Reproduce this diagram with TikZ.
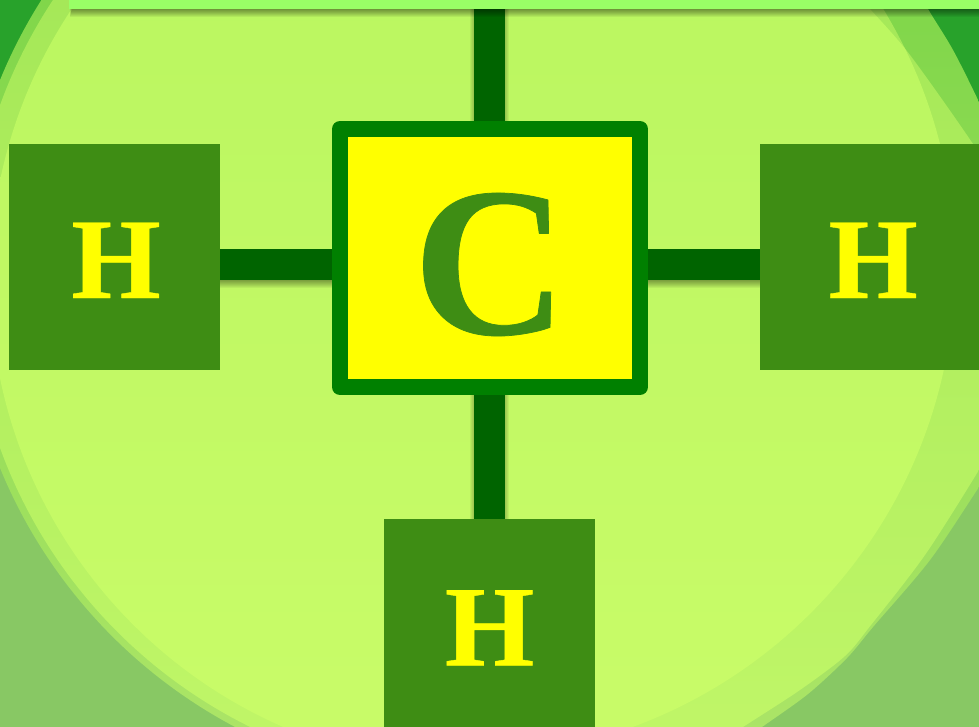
\documentclass[tikz,border=0pt]{standalone}
\usepackage{fontspec}
\setmainfont{Liberation Serif}[BoldFeatures={FakeBold=0.35}]
\pgfdeclarelayer{under}
\pgfsetlayers{under,main}
\definecolor{pureyellow}{RGB}{255,255,0}
\definecolor{boxgreen}{RGB}{62,141,20}
\definecolor{bordergreen}{RGB}{0,128,0}
\definecolor{bondgreen}{RGB}{0,100,0}
\definecolor{barlight}{RGB}{153,255,102}
\definecolor{bgtop}{RGB}{40,162,43}
\definecolor{bgbot}{RGB}{136,200,100}
\definecolor{oneT}{RGB}{125,213,72}
\definecolor{oneB}{RGB}{175,230,105}
\definecolor{twoT}{RGB}{163,231,87}
\definecolor{twoB}{RGB}{194,247,105}
\definecolor{thrT}{RGB}{186,246,96}
\definecolor{thrB}{RGB}{202,252,105}
\tikzset{
  hatom/.style={draw=none,fill=boxgreen,text=pureyellow,inner sep=0pt,outer sep=0pt,
    minimum width=211pt,minimum height=226pt,
    font=\fontsize{115}{115}\selectfont\bfseries,text height=82pt,text depth=0pt},
  catom/.style={draw=bordergreen,line width=16pt,line join=round,fill=pureyellow,text=boxgreen,
    inner sep=0pt,outer sep=0pt,minimum width=300pt,minimum height=258pt,
    font=\fontsize{213}{213}\selectfont\bfseries,text height=152pt,text depth=0pt},
  topbar/.style={fill=barlight,draw=none,inner sep=0pt,outer sep=0pt,minimum width=940pt,minimum height=40pt},
  bond/.style={bondgreen,line width=31pt},
}
\newcommand{\fillgrad}[2]{\shade[top color=#1,bottom color=#2] (-60,-60) rectangle (1100,800);}
\newcommand{\pathB}{(490,-60) -- plot[smooth] coordinates {(900,-40) (928,9) (953,50) (979,102) (1010,170)} -- (1020,440) -- plot[smooth] coordinates {(1010,440) (979,487) (930,560) (873,627) (847,658) (808,694) (762,727) (715,760)} -- (490,800) -- cycle}
\newcommand{\pathE}{(490,-60) -- plot[smooth] coordinates {(845,-18) (870,9) (910,55) (973,144) (1000,190)} -- (1020,430) -- plot[smooth] coordinates {(1005,425) (979,470) (925,555) (871,625) (845,656) (800,690) (743,727) (700,755)} -- (490,800) -- cycle}
\newcommand{\pathF}{(463,265) circle[radius=492pt]}
\begin{document}
\begin{tikzpicture}[x=1pt,y=-1pt]
\useasboundingbox (0,0) rectangle (979,727);
% nodes
\node[catom] (CC) at (490,258) {C};
\node[hatom] (HL) at (114.5,257) {\hspace{3pt}H};
\node[hatom,minimum width=226pt] (HR) at (873,257) {H};
\node[hatom,minimum height=211pt] (HB) at (489.5,624.5) {H};
\node[topbar] (Bar) at (539,-11) {};
\coordinate (bondy) at (0,264.5);
\coordinate (shadowy) at (0,268.5);
\coordinate (bondx) at (489.5,0);
\begin{pgfonlayer}{under}
  % background
  \fill[bgtop] (-10,-10) rectangle (1000,274);
  \fill[bgbot] (-10,274) rectangle (1000,740);
  % outer discs
  \begin{scope}
    \clip (-60,-60) rectangle (490,800);
    \clip (474,274) circle[radius=512pt];
    \fillgrad{oneT}{oneB}
  \end{scope}
  \begin{scope}
    \clip \pathB;
    \fillgrad{oneT}{oneB}
  \end{scope}
  % middle discs
  \begin{scope}
    \clip (-60,-60) rectangle (490,800);
    \clip (472,276.5) circle[radius=502pt];
    \fillgrad{twoT}{twoB}
  \end{scope}
  \begin{scope}
    \clip \pathE;
    \fillgrad{twoT}{twoB}
  \end{scope}
  \begin{scope}
    \clip (489,-60) rectangle (1100,800);
    \clip \pathF;
    \fillgrad{twoT}{twoB}
  \end{scope}
  % inner disc
  \begin{scope}
    \clip (-60,-60) rectangle (490,800);
    \clip (478,279.4) circle[radius=488pt];
    \fillgrad{thrT}{thrB}
  \end{scope}
  \begin{scope}
    \clip (489,-60) rectangle (1100,800);
    \clip \pathF;
    \clip \pathE;
    \fillgrad{thrT}{thrB}
  \end{scope}
  % bond shadows
  \foreach \e in {-3,...,4}{
    \begin{scope}[opacity=.05,black,line width=31pt+2pt*\e]
      \draw (HL.east |- shadowy) -- (CC.west |- shadowy);
      \draw (CC.east |- shadowy) -- (HR.west |- shadowy);
      \draw (bondx |- Bar.south) -- (bondx |- CC.north);
      \draw (bondx |- CC.south) -- (bondx |- HB.north);
    \end{scope}
  }
  % bonds
  \draw[bond] (HL.east |- bondy) -- (CC.west |- bondy);
  \draw[bond] (CC.east |- bondy) -- (HR.west |- bondy);
  \draw[bond] (bondx |- Bar.south) -- (bondx |- CC.north);
  \draw[bond] (bondx |- CC.south) -- (bondx |- HB.north);
  % bar shadow
  \foreach \e in {1,2,...,8}{
    \fill[black,opacity=.06] (Bar.south west) ++(3-\e/4,0) rectangle ([yshift=-\e*1pt]Bar.south east);
  }
\end{pgfonlayer}
\end{tikzpicture}
\end{document}
